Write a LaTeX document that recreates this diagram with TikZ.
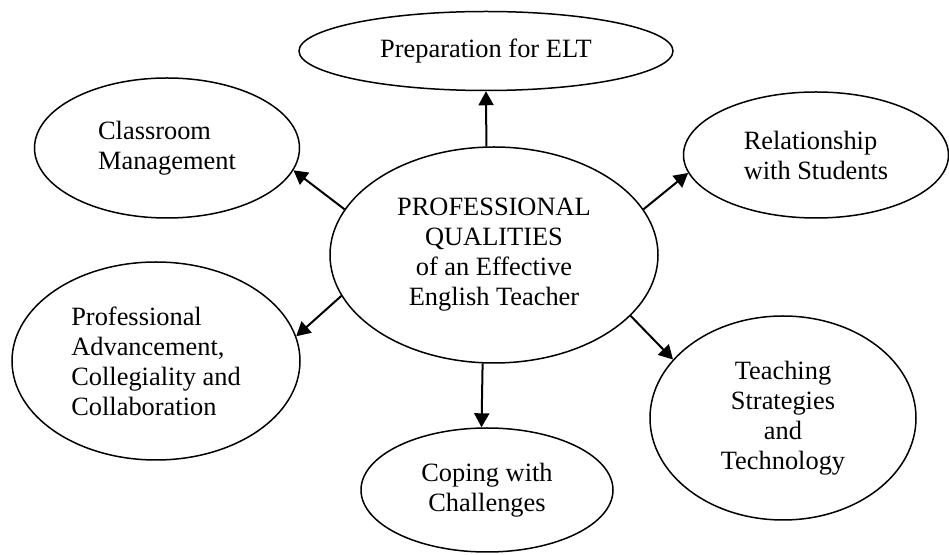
\documentclass[tikz,border=0pt]{standalone}
\usepackage{fontspec}
\setmainfont{Liberation Serif}
\usepackage{tikz}
\usetikzlibrary{shapes.geometric, arrows.meta}

\begin{document}
\begin{tikzpicture}[x=0.5pt, y=-0.5pt]
            \tikzstyle{qualbox} = [ellipse, draw=black, line width=0.75pt, inner sep=0pt, font=\fontsize{13.2}{15}\selectfont]
            \tikzstyle{leftbox} = [qualbox, align=left]
            \tikzstyle{midbox} = [qualbox, align=center]
            \tikzstyle{link} = [-{Triangle[length=7pt, width=7.5pt]}, line width=1pt]

            \useasboundingbox (0, 0) rectangle (949, 555);

            \node[midbox, minimum width=164pt, minimum height=108pt] (core) at (494, 255) {PROFESSIONAL\\QUALITIES\\of an Effective\\English Teacher};
            \node[midbox, minimum width=187pt, minimum height=39.5pt] (prep) at (486, 51) {Preparation for ELT};
            \node[leftbox, minimum width=132.5pt, minimum height=70pt] (class) at (167, 148) {Classroom\\Management};
            \node[leftbox, minimum width=132.5pt, minimum height=63pt] (rel) at (816, 155) {Relationship\\with Students};
            \node[leftbox, minimum width=144pt, minimum height=99pt] (adv) at (156, 361) {Professional\\Advancement,\\Collegiality and\\Collaboration};
            \node[midbox, minimum width=126pt, minimum height=62pt] (cope) at (487, 490) {Coping with\\Challenges};
            \node[midbox, minimum width=133pt, minimum height=102pt] (teach) at (783, 418) {Teaching\\Strategies\\and\\Technology};

            \draw[link] (core.94) -- (prep.270);
            \draw[link] (core.163) -- (class.350);
            \draw[link] (core.17) -- (rel.188);
            \draw[link] (core.195) -- (adv.10);
            \draw[link] (core.264) -- (cope.95);
            \draw[link] (core.336) -- (teach.152);
        \end{tikzpicture}
\end{document}
